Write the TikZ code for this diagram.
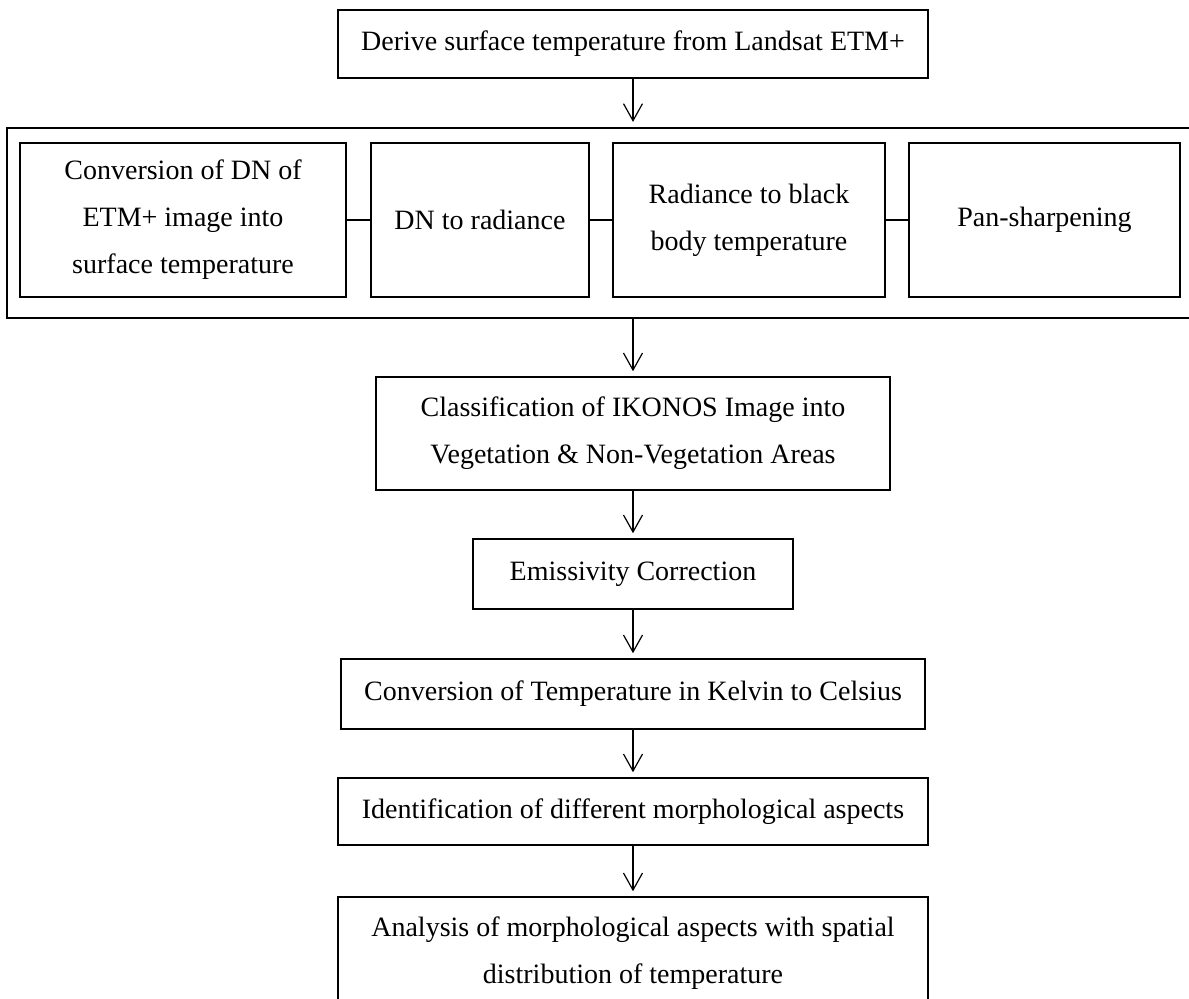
\documentclass[tikz,border=0pt]{standalone}
\usepackage{fontspec}
\setmainfont{Liberation Serif}
\usepackage{tikz}
\usetikzlibrary{arrows.meta,calc}

\begin{document}
\begin{tikzpicture}[
  x=0.5pt, y=-0.5pt,
  every node/.style={align=center, inner sep=0pt, font=\fontsize{14}{23.5}\selectfont},
  stepbox/.style={draw, line width=0.75pt, minimum height=35pt},
  subbox/.style={draw, line width=0.75pt, minimum height=77pt},
  groupbox/.style={draw, line width=1.1pt, minimum width=596.5pt, minimum height=95pt},
  link/.style={line width=0.6pt},
  >={Straight Barb[length=8.5pt, width=9.5pt]}
]
\useasboundingbox (0,0) rectangle (1189,999);

\node[stepbox, minimum width=295pt, minimum height=34pt] (derive) at (633,44) {Derive surface temperature from Landsat ETM+};

\node[groupbox] (grp) at (603.5,223) {};
\node[subbox, minimum width=163pt]   (dnconv) at (183,220) {Conversion of DN of\\ETM+ image into\\surface temperature};
\node[subbox, minimum width=109pt]   (dnrad)  at (480,220) {DN to radiance};
\node[subbox, minimum width=136pt]   (radbb)  at (749,220) {Radiance to black\\body temperature};
\node[subbox, minimum width=135.5pt] (pansh)  at (1044.5,220) {Pan-sharpening};

\draw[link] (dnconv) -- (dnrad);
\draw[link] (dnrad) -- (radbb);
\draw[link] (radbb) -- (pansh);

\node[stepbox, minimum width=257pt, minimum height=56.5pt] (classif) at (633,433.5) {Classification of IKONOS Image into\\Vegetation \& Non-Vegetation Areas};
\node[stepbox, minimum width=160pt] (emis)   at (633,574) {Emissivity Correction};
\node[stepbox, minimum width=292pt] (kelvin) at (633,694) {Conversion of Temperature in Kelvin to Celsius};
\node[stepbox, minimum width=295pt, minimum height=33.5pt] (ident) at (633,811.5) {Identification of different morphological aspects};
\node[stepbox, minimum width=295pt, minimum height=56.5pt] (analys) at (633,953.5) {Analysis of morphological aspects with spatial\\distribution of temperature};

\draw[link,->,shorten >=2.5pt] (derive) -- (derive |- grp.north);
\draw[link,->,shorten >=2.5pt] (classif |- grp.south) -- (classif);
\draw[link,->,shorten >=2.5pt] (classif) -- (emis);
\draw[link,->,shorten >=2.5pt] (emis) -- (kelvin);
\draw[link,->,shorten >=2.5pt] (kelvin) -- (ident);
\draw[link,->,shorten >=2.5pt] (ident) -- (analys);

\end{tikzpicture}
\end{document}
